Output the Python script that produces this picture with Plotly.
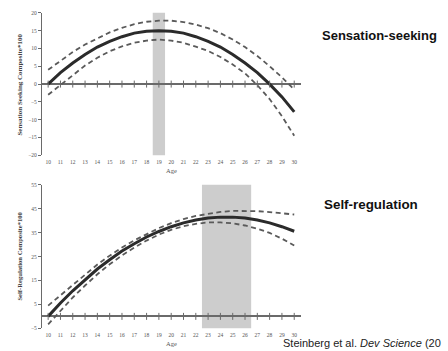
import plotly.graph_objects as go

# Ages on the horizontal axis
ages = list(range(10, 31))

# Sensation-seeking composite (x100): fitted curve and confidence bounds
sens_fit = [0.0, 3.2, 5.9, 8.3, 10.4, 12.0, 13.3, 14.3, 14.8, 15.0, 14.8,
            14.3, 13.3, 12.0, 10.4, 8.3, 5.9, 3.2, 0.0, -3.6, -7.8]
sens_upper = [4.0, 6.6, 9.0, 11.1, 12.9, 14.5, 15.8, 16.8, 17.5, 17.8, 17.8,
              17.4, 16.7, 15.7, 14.3, 12.5, 10.4, 7.9, 5.0, 1.9, -1.5]
sens_lower = [-3.0, -0.2, 2.6, 5.2, 7.4, 9.2, 10.6, 11.6, 12.2, 12.5, 12.2,
              11.6, 10.5, 9.3, 7.6, 5.5, 3.0, -0.3, -4.2, -9.0, -14.5]
sens_peak_window = [18.5, 19.5]

# Self-regulation composite (x100): fitted curve and confidence bounds
reg_fit = [0.0, 5.6, 10.7, 15.4, 19.8, 23.7, 27.3, 30.4, 33.2, 35.5, 37.5,
           39.1, 40.3, 41.1, 41.5, 41.5, 41.1, 40.3, 39.1, 37.5, 35.6]
reg_upper = [4.5, 8.8, 13.3, 17.6, 21.7, 25.4, 28.8, 31.8, 34.5, 36.9, 39.0,
             40.7, 42.0, 43.0, 43.7, 44.1, 44.2, 44.0, 43.6, 43.1, 42.6]
reg_lower = [-3.3, 2.3, 7.9, 12.9, 17.6, 21.8, 25.5, 28.8, 31.7, 34.2, 36.2,
             37.7, 38.7, 39.3, 39.3, 38.9, 38.0, 36.7, 34.9, 32.5, 29.6]
reg_peak_window = [22.5, 26.5]

sens_ticks = [-20, -15, -10, -5, 0, 5, 10, 15, 20]
reg_ticks = [-5, 5, 15, 25, 35, 45, 55]

W, H = 448, 351
X_DOMAIN = [42 / W, 301 / W]
TOP_DOMAIN = [1 - 155 / H, 1 - 10 / H]
BOT_DOMAIN = [1 - 331 / H, 1 - 185 / H]

FIT_COLOR = "#2b2b2b"
CI_COLOR = "#5a5a5a"
AXIS_COLOR = "#6a6a6a"
BAND_COLOR = "#cdcdcd"
TICK_FONT = dict(family="Liberation Serif", size=5.5, color="#555555")
YTITLE_FONT = dict(family="Liberation Serif", color="#444444")

fig = go.Figure()


def add_panel(fit, upper, lower, xa, ya):
    for series in (upper, lower):
        fig.add_trace(go.Scatter(
            x=ages, y=series, mode="lines", xaxis=xa, yaxis=ya,
            line=dict(color=CI_COLOR, width=1.8, dash="5px,3.5px"),
            hoverinfo="skip", showlegend=False))
    fig.add_trace(go.Scatter(
        x=ages, y=fit, mode="lines", xaxis=xa, yaxis=ya,
        line=dict(color=FIT_COLOR, width=3),
        showlegend=False))
    # small tick marks sitting on the zero line
    fig.add_trace(go.Scatter(
        x=ages, y=[0] * len(ages), mode="markers", xaxis=xa, yaxis=ya,
        marker=dict(symbol="line-ns", size=5,
                    line=dict(color=AXIS_COLOR, width=1)),
        hoverinfo="skip", showlegend=False, cliponaxis=False))


add_panel(sens_fit, sens_upper, sens_lower, "x", "y")
add_panel(reg_fit, reg_upper, reg_lower, "x2", "y2")

# shaded age windows of peak / plateau
for window, xr, yr in ((sens_peak_window, "x", "y domain"),
                       (reg_peak_window, "x2", "y2 domain")):
    fig.add_shape(type="rect", x0=window[0], x1=window[1], xref=xr,
                  y0=0, y1=1, yref=yr, fillcolor=BAND_COLOR,
                  line_width=0, layer="below")

xaxis_common = dict(
    domain=X_DOMAIN, range=[9.5, 30.55], showgrid=False, zeroline=False,
    showline=False, ticks="", tickvals=ages, ticktext=[str(a) for a in ages],
    tickfont=TICK_FONT, ticklabelstandoff=2,
    title=dict(text="Age", font=dict(family="Liberation Serif", size=6.5,
                                     color="#555555"), standoff=4),
)
yaxis_common = dict(
    showgrid=False, zeroline=True, zerolinecolor=AXIS_COLOR, zerolinewidth=1.5,
    showline=True, linecolor=AXIS_COLOR, linewidth=1.3, ticks="outside",
    ticklen=3, tickcolor=AXIS_COLOR, tickfont=TICK_FONT,
)

fig.update_layout(
    width=W, height=H,
    margin=dict(l=0, r=0, t=0, b=0),
    paper_bgcolor="white", plot_bgcolor="white",
    xaxis=dict(anchor="y", **xaxis_common),
    xaxis2=dict(anchor="y2", **xaxis_common),
    yaxis=dict(domain=TOP_DOMAIN, anchor="x", range=[-20, 20],
               tickvals=sens_ticks, **yaxis_common),
    yaxis2=dict(domain=BOT_DOMAIN, anchor="x2", range=[-5, 55],
                tickvals=reg_ticks, **yaxis_common),
    annotations=[
        dict(text="<b>Sensation Seeking Composite*100</b>", textangle=-90,
             xref="paper", yref="paper", x=20 / W, y=1 - 83 / H,
             xanchor="center", yanchor="middle", showarrow=False,
             font=dict(size=7, **YTITLE_FONT)),
        dict(text="<b>Self-Regulation Composite*100</b>", textangle=-90,
             xref="paper", yref="paper", x=20 / W, y=1 - 258 / H,
             xanchor="center", yanchor="middle", showarrow=False,
             font=dict(size=6.6, **YTITLE_FONT)),
        dict(text="<b>Sensation-seeking</b>", xref="paper", yref="paper",
             x=320 / W, y=1 - 33 / H, xanchor="left", yanchor="middle",
             showarrow=False,
             font=dict(family="Liberation Sans", size=13, color="#111111")),
        dict(text="<b>Self-regulation</b>", xref="paper", yref="paper",
             x=322 / W, y=1 - 205 / H, xanchor="left", yanchor="middle",
             showarrow=False,
             font=dict(family="Liberation Sans", size=13.4, color="#111111")),
        dict(text="Steinberg et al. <i>Dev Science</i> (20",
             xref="paper", yref="paper", x=281 / W, y=1 - 346 / H,
             xanchor="left", yanchor="middle", showarrow=False,
             font=dict(family="Liberation Sans", size=11, color="#222222")),
    ],
)

fig.write_html("out.html")
